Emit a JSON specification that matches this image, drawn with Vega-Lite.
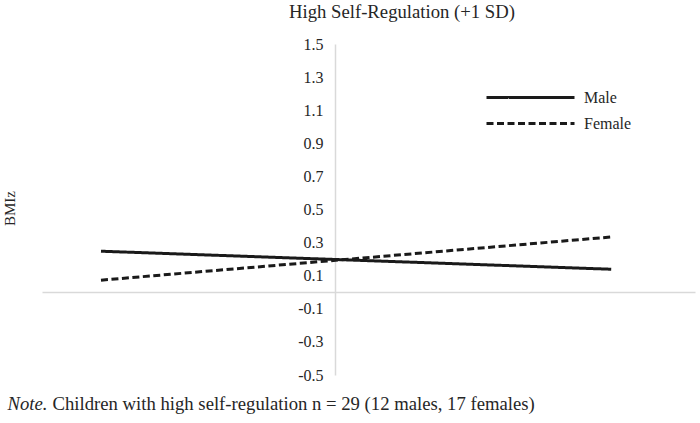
{
  "$schema": "https://vega.github.io/schema/vega-lite/v6.json",
  "width": 653,
  "height": 331,
  "autosize": {"type": "none"},
  "padding": {"left": 42, "top": 44, "right": 5, "bottom": 48},
  "background": "white",
  "title": {
    "text": "High Self-Regulation (+1 SD)",
    "font": "Liberation Serif",
    "fontSize": 18.7,
    "fontWeight": "normal",
    "color": "#262626",
    "anchor": "start",
    "dx": 287,
    "baseline": "alphabetic",
    "offset": -1
  },
  "data": {
    "values": [
      {"x": -1, "bmiz": 0.248, "sex": "Male"},
      {"x": 1.18, "bmiz": 0.139, "sex": "Male"},
      {"x": -1, "bmiz": 0.073, "sex": "Female"},
      {"x": 1.18, "bmiz": 0.334, "sex": "Female"}
    ]
  },
  "config": {
    "font": "Liberation Serif",
    "view": {"stroke": null},
    "axis": {"grid": false, "ticks": false, "titleFont": "Liberation Serif", "labelFont": "Liberation Serif"}
  },
  "resolve": {"scale": {"y": "independent"}, "axis": {"y": "independent"}},
  "layer": [
    {
      "transform": [{"filter": "datum.sex == 'Male'"}],
      "mark": {"type": "line", "strokeWidth": 3, "color": "#1a1a1a", "clip": false},
      "encoding": {
        "x": {
          "field": "x", "type": "quantitative",
          "scale": {"domain": [-1.252, 1.538], "nice": false, "zero": false},
          "axis": {
            "orient": "bottom", "offset": -83, "labels": false, "ticks": false,
            "domainColor": "#d9d9d9", "domainWidth": 1.5,
            "title": "Note.", "titleFont": "Liberation Serif", "titleFontSize": 18.7,
            "titleFontStyle": "italic", "titleFontWeight": "normal", "titleColor": "#262626",
            "titleAlign": "left", "titleBaseline": "alphabetic", "titleAnchor": null,
            "titleX": -35, "titleY": 117
          }
        },
        "y": {
          "field": "bmiz", "type": "quantitative",
          "scale": {"domain": [-0.5, 1.5], "nice": false, "zero": false},
          "axis": {
            "orient": "left", "offset": -293,
            "values": [-0.5, -0.3, -0.1, 0.1, 0.3, 0.5, 0.7, 0.9, 1.1, 1.3, 1.5],
            "labelExpr": "replace(format(datum.value, '.1f'), '\u2212', '-')",
            "labelFont": "Liberation Serif", "labelFontSize": 16,
            "labelColor": "#262626", "labelPadding": 12,
            "domainColor": "#d9d9d9", "domainWidth": 1.5,
            "title": "BMIz", "titleFont": "Liberation Serif", "titleFontSize": 15,
            "titleFontWeight": "normal", "titleColor": "#262626",
            "titleX": -326, "titleY": 164, "titleAngle": -90,
            "titleAlign": "center", "titleBaseline": "middle"
          }
        },
        "strokeDash": {
          "field": "sex", "type": "nominal",
          "scale": {"domain": ["Male", "Female"], "range": [[1, 0], [7, 3.5]]},
          "legend": {
            "orient": "none", "legendX": 476, "legendY": 41, "title": null,
            "symbolType": "M-4,0H4", "symbolSize": 484, "symbolStrokeWidth": 3,
            "symbolStrokeColor": "#1a1a1a",
            "labelFont": "Liberation Serif", "labelFontSize": 16, "labelColor": "#262626",
            "labelOffset": 41, "rowPadding": 5
          }
        }
      }
    },
    {
      "transform": [{"filter": "datum.sex == 'Female'"}],
      "mark": {"type": "line", "strokeWidth": 3, "color": "#1a1a1a", "clip": false},
      "encoding": {
        "x": {"field": "x", "type": "quantitative"},
        "y": {
          "field": "bmiz", "type": "quantitative",
          "scale": {"domain": [-0.5, 1.5], "nice": false, "zero": false},
          "axis": {
            "orient": "right", "domain": false, "labels": false, "ticks": false,
            "title": "Children with high self-regulation n = 29 (12 males, 17 females)",
            "titleFont": "Liberation Serif", "titleFontSize": 18.7,
            "titleFontWeight": "normal", "titleColor": "#262626",
            "titleAngle": 0, "titleAlign": "left", "titleBaseline": "alphabetic",
            "titleX": -643, "titleY": 365
          }
        },
        "strokeDash": {"field": "sex", "type": "nominal"}
      }
    }
  ]
}
